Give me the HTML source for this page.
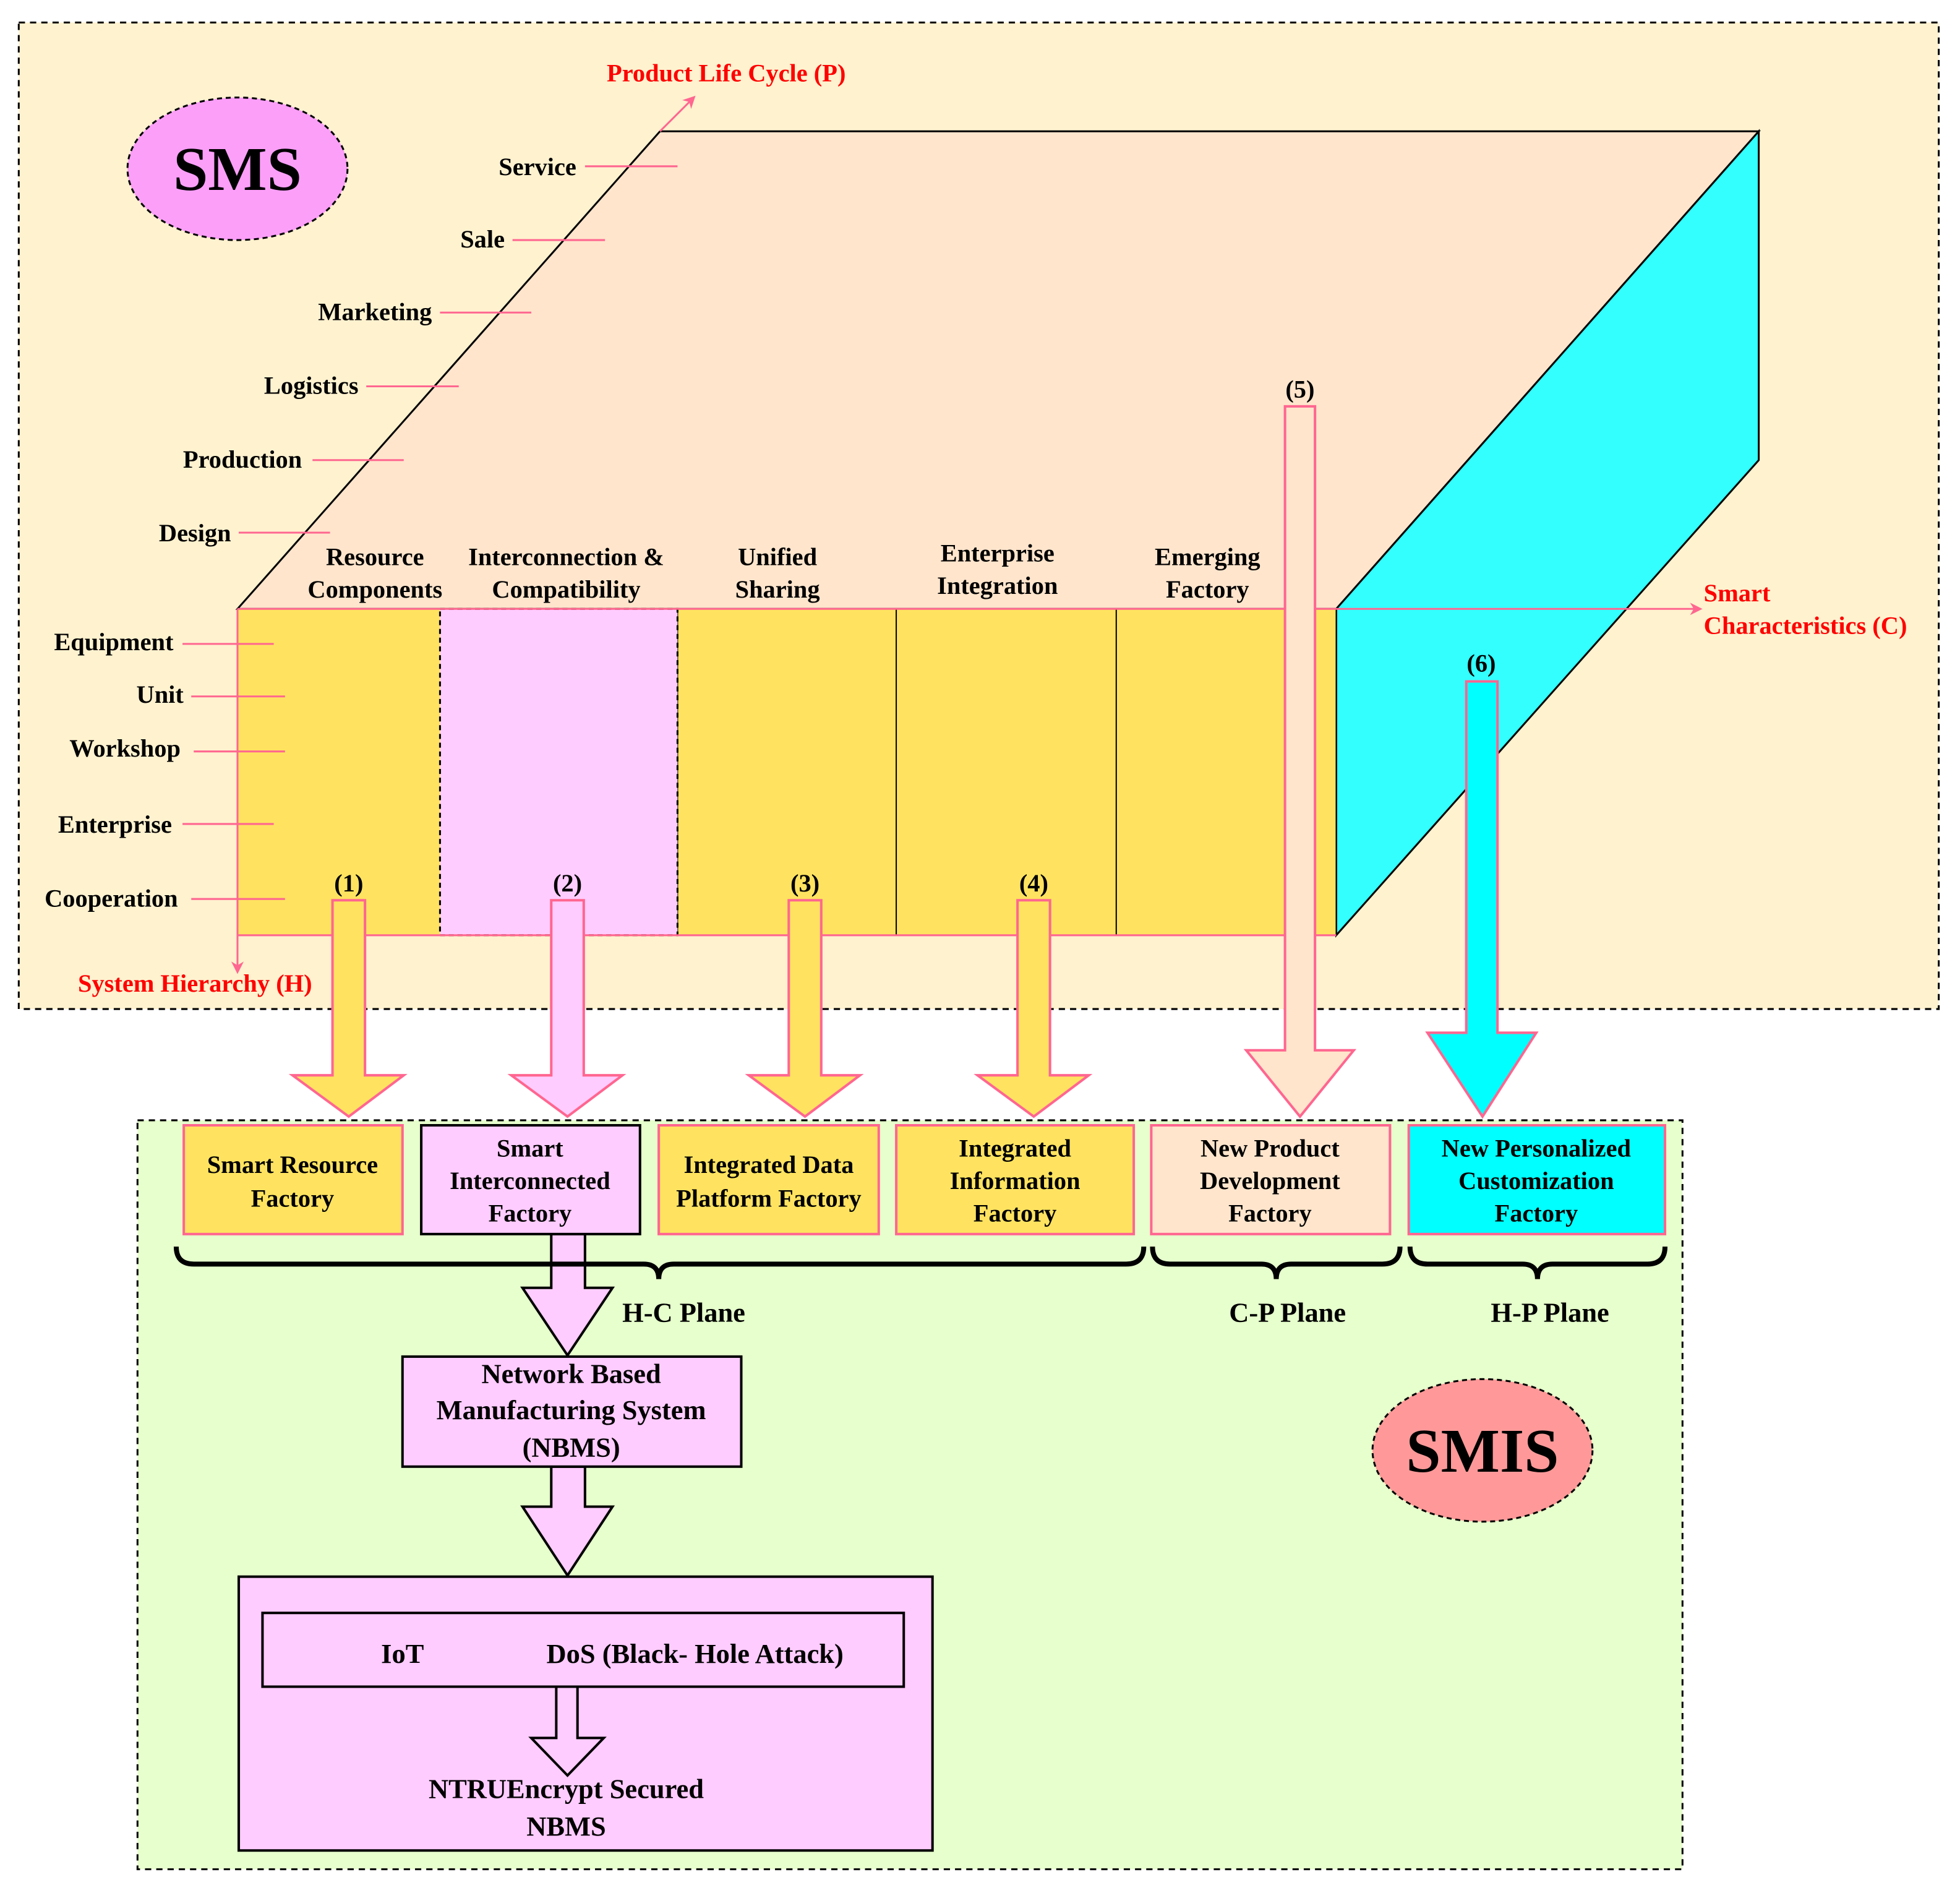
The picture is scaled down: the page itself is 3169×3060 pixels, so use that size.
<!DOCTYPE html>
<html><head><meta charset="utf-8"><style>html,body{margin:0;padding:0;background:#fff}svg{display:block}text{font-family:"Liberation Serif",serif;font-weight:bold;font-size:20px;fill:#000;text-anchor:middle}.r{fill:#f00}.l{text-anchor:end}</style></head><body>
<svg width="3169" height="3060" viewBox="0 0 1568 1514" preserveAspectRatio="none" xmlns="http://www.w3.org/2000/svg">
<defs><marker id="ah" markerWidth="10" markerHeight="10" refX="8" refY="5" orient="auto" markerUnits="userSpaceOnUse"><path d="M0,0 L10,5 L0,10 L3,5z" fill="#ff6690"/></marker></defs>
<rect x="15" y="18" width="1536" height="789" fill="#fff2cf" stroke="#000" stroke-width="1.5" stroke-dasharray="5,4"/>
<rect x="110" y="896" width="1236" height="599" fill="#e6ffcc" stroke="#000" stroke-width="1.5" stroke-dasharray="5,4"/>
<ellipse cx="190" cy="135" rx="88" ry="57" fill="#fb9ff9" stroke="#000" stroke-width="1.5" stroke-dasharray="4,3"/>
<text x="190" y="152" style="font-size:50px">SMS</text>
<polygon points="190,487 528,105 1407,105 1069,487" fill="#ffe5cc" stroke="#000" stroke-width="1.5"/>
<polygon points="1069,487 1407,105 1407,368 1069,748" fill="#33ffff" stroke="#000" stroke-width="1.5"/>
<rect x="190" y="487" width="162" height="261" fill="#ffe360"/>
<rect x="542" y="487" width="527" height="261" fill="#ffe360" stroke="#000" stroke-width="1"/>
<line x1="717" y1="487" x2="717" y2="748" stroke="#000"/><line x1="893" y1="487" x2="893" y2="748" stroke="#000"/>
<rect x="352" y="487" width="190" height="261" fill="#ffccff" stroke="#000" stroke-width="1.5" stroke-dasharray="4,3"/>
<line x1="190" y1="748" x2="1069" y2="748" stroke="#ff6690" stroke-width="1.5"/>
<line x1="190" y1="487" x2="1069" y2="487" stroke="#ff6690" stroke-width="1.5"/>
<line x1="528" y1="105" x2="555" y2="78" stroke="#ff6690" stroke-width="1.5" marker-end="url(#ah)"/>
<line x1="1069" y1="487" x2="1360" y2="487" stroke="#ff6690" stroke-width="1.5" marker-end="url(#ah)"/>
<line x1="190" y1="487" x2="190" y2="777" stroke="#ff6690" stroke-width="1.5" marker-end="url(#ah)"/>
<g stroke="#ff6690" stroke-width="1.5">
<line x1="468" y1="133" x2="542" y2="133"/><line x1="410" y1="192" x2="484" y2="192"/><line x1="352" y1="250" x2="425" y2="250"/><line x1="293" y1="309" x2="367" y2="309"/><line x1="250" y1="368" x2="323" y2="368"/><line x1="191" y1="426" x2="264" y2="426"/>
<line x1="146" y1="515" x2="219" y2="515"/><line x1="153" y1="557" x2="228" y2="557"/><line x1="155" y1="601" x2="228" y2="601"/><line x1="146" y1="659" x2="219" y2="659"/><line x1="153" y1="719" x2="228" y2="719"/></g>
<text x="430" y="140">Service</text><text x="386" y="198">Sale</text><text x="300" y="256">Marketing</text><text x="249" y="315">Logistics</text><text x="194" y="374">Production</text><text x="156" y="433">Design</text>
<text x="91" y="520">Equipment</text><text x="128" y="562">Unit</text><text x="100" y="605">Workshop</text><text x="92" y="666">Enterprise</text><text x="89" y="725">Cooperation</text>
<text class="r" x="581" y="65">Product Life Cycle (P)</text>
<text class="r" x="1363" y="481" style="text-anchor:start">Smart</text><text class="r" x="1363" y="507" style="text-anchor:start">Characteristics (C)</text>
<text class="r" x="156" y="793">System Hierarchy (H)</text>
<text x="300" y="452">Resource</text><text x="300" y="478">Components</text>
<text x="453" y="452">Interconnection &amp;</text><text x="453" y="478">Compatibility</text>
<text x="622" y="452">Unified</text><text x="622" y="478">Sharing</text>
<text x="798" y="449">Enterprise</text><text x="798" y="475">Integration</text>
<text x="966" y="452">Emerging</text><text x="966" y="478">Factory</text>
<g stroke="#ff6690" stroke-width="2">
<polygon points="266,720 292,720 292,860 323,860 279,893 234,860 266,860" fill="#ffe360"/>
<polygon points="441,720 467,720 467,860 498,860 454,893 409,860 441,860" fill="#ffccff"/>
<polygon points="631,720 657,720 657,860 688,860 644,893 599,860 631,860" fill="#ffe360"/>
<polygon points="814,720 840,720 840,860 871,860 827,893 782,860 814,860" fill="#ffe360"/>
<polygon points="1028,325 1052,325 1052,840 1083,840 1040,893 997,840 1028,840" fill="#ffe5cc"/>
<polygon points="1173,545 1198,545 1198,826 1229,826 1186,893 1142,826 1173,826" fill="#00ffff"/>
</g>
<text x="279" y="713">(1)</text><text x="454" y="713">(2)</text><text x="644" y="713">(3)</text><text x="827" y="713">(4)</text><text x="1040" y="318">(5)</text><text x="1185" y="537">(6)</text>
<g stroke-width="2">
<rect x="147" y="900" width="175" height="87" fill="#ffe360" stroke="#ff6690"/>
<rect x="527" y="900" width="176" height="87" fill="#ffe360" stroke="#ff6690"/>
<rect x="717" y="900" width="190" height="87" fill="#ffe360" stroke="#ff6690"/>
<rect x="921" y="900" width="191" height="87" fill="#ffe5cc" stroke="#ff6690"/>
<rect x="1127" y="900" width="205" height="87" fill="#00ffff" stroke="#ff6690"/>
<polygon points="441,987 468,987 468,1030 490,1030 454,1084 418,1030 441,1030" fill="#ffccff" stroke="#000"/>
<polygon points="441,1173 468,1173 468,1205 490,1205 454,1260 418,1205 441,1205" fill="#ffccff" stroke="#000"/>
<rect x="337" y="900" width="175" height="87" fill="#ffccff" stroke="#000"/>
<rect x="322" y="1085" width="271" height="88" fill="#ffccff" stroke="#000"/>
<rect x="191" y="1261" width="555" height="219" fill="#ffccff" stroke="#000"/>
<rect x="210" y="1290" width="513" height="59" fill="#ffccff" stroke="#000"/>
<polygon points="445,1349 462,1349 462,1390 483,1390 454,1420 425,1390 445,1390" fill="#ffccff" stroke="#000"/>
</g>
<text x="234" y="938">Smart Resource</text><text x="234" y="965">Factory</text>
<text x="424" y="925">Smart</text><text x="424" y="951">Interconnected</text><text x="424" y="977">Factory</text>
<text x="615" y="938">Integrated Data</text><text x="615" y="965">Platform Factory</text>
<text x="812" y="925">Integrated</text><text x="812" y="951">Information</text><text x="812" y="977">Factory</text>
<text x="1016" y="925">New Product</text><text x="1016" y="951">Development</text><text x="1016" y="977">Factory</text>
<text x="1229" y="925">New Personalized</text><text x="1229" y="951">Customization</text><text x="1229" y="977">Factory</text>
<g fill="none" stroke="#000" stroke-width="4">
<path d="M141,997 Q141,1011 155,1011 L515,1011 Q527,1011 527,1023 Q527,1011 539,1011 L901,1011 Q915,1011 915,997"/>
<path d="M922,997 Q922,1011 936,1011 L1009,1011 Q1021,1011 1021,1023 Q1021,1011 1033,1011 L1106,1011 Q1120,1011 1120,997"/>
<path d="M1128,997 Q1128,1011 1142,1011 L1218,1011 Q1230,1011 1230,1023 Q1230,1011 1242,1011 L1318,1011 Q1332,1011 1332,997"/>
</g>
<text x="547" y="1057" style="font-size:22px">H-C Plane</text><text x="1030" y="1057" style="font-size:22px">C-P Plane</text><text x="1240" y="1057" style="font-size:22px">H-P Plane</text>
<text x="457" y="1106" style="font-size:22px">Network Based</text><text x="457" y="1135" style="font-size:22px">Manufacturing System</text><text x="457" y="1165" style="font-size:22px">(NBMS)</text>
<text x="322" y="1330" style="font-size:22px">IoT</text><text x="556" y="1330" style="font-size:22px">DoS (Black- Hole Attack)</text>
<text x="453" y="1438" style="font-size:22px">NTRUEncrypt Secured</text><text x="453" y="1468" style="font-size:22px">NBMS</text>
<ellipse cx="1186" cy="1160" rx="88" ry="57" fill="#ff9999" stroke="#000" stroke-width="1.5" stroke-dasharray="4,3"/>
<text x="1186" y="1177" style="font-size:50px">SMIS</text>
</svg>
</body></html>
